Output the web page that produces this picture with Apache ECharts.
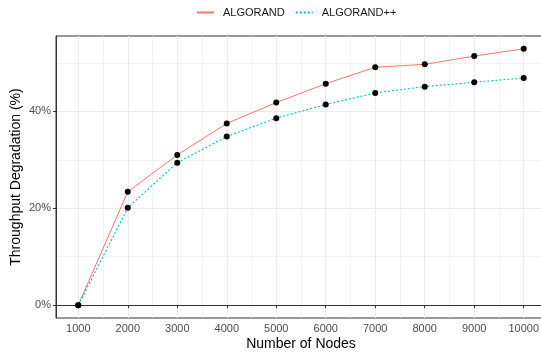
<!DOCTYPE html>
<html>
<head>
<meta charset="utf-8">
<script src="https://cdn.jsdelivr.net/npm/echarts@6/dist/echarts.min.js"></script>
<style>html,body{margin:0;padding:0;background:#fff}#c{width:541px;height:358px}</style>
</head>
<body>
<div id="c"></div>
<script>
const nodes = [1000, 2000, 3000, 4000, 5000, 6000, 7000, 8000, 9000, 10000];
const algorand = [0, 23.4, 31.0, 37.5, 41.8, 45.7, 49.1, 49.7, 51.4, 52.9];
const algorandPP = [0, 20.1, 29.4, 34.8, 38.6, 41.4, 43.8, 45.1, 46.0, 46.9];
const xTicks = [1000, 2000, 3000, 4000, 5000, 6000, 7000, 8000, 9000, 10000];
const xMinor = [1500, 2500, 3500, 4500, 5500, 6500, 7500, 8500, 9500];
const yTicks = [0, 20, 40];
const yMinor = [10, 30, 50];

const FONT = 'Liberation Sans, Arial, sans-serif';
const xMin = 550, xMax = 10450, yMin = -2.65, yMax = 55.55;

const chart = echarts.init(document.getElementById('c'), null, {renderer: 'canvas'});
const hiddenAxis = (custom) => ({
  axisLine: {show: false},
  axisTick: {show: false, customValues: custom},
  axisLabel: {show: false, customValues: custom},
  splitLine: {show: true, lineStyle: {color: '#EBEBEB', width: 0.6}}
});
chart.setOption({
  animation: false,
  backgroundColor: '#fff',
  textStyle: {fontFamily: FONT},
  legend: {
    top: 2, left: 191,
    itemWidth: 17, itemHeight: 10, itemGap: 10,
    itemStyle: {opacity: 0, borderWidth: 0},
    textStyle: {fontFamily: FONT, fontSize: 11, color: '#1A1A1A', padding: [0, 0, 0, 4]},
    data: ['ALGORAND', 'ALGORAND++']
  },
  grid: {left: 56, top: 36, right: -5, bottom: 40, show: true, borderColor: '#333333', borderWidth: 1,
         backgroundColor: 'transparent', containLabel: false, outerBoundsMode: 'none'},
  xAxis: [
    Object.assign({type: 'value', min: xMin, max: xMax, gridIndex: 0, position: 'top'}, hiddenAxis(xMinor)),
    {
      type: 'value', min: xMin, max: xMax, gridIndex: 0, position: 'bottom',
      name: 'Number of Nodes', nameLocation: 'middle', nameGap: 19, nameMoveOverlap: false,
      nameTextStyle: {fontFamily: FONT, fontSize: 14, color: '#000', verticalAlign: 'top'},
      axisLine: {show: true, lineStyle: {color: '#333333', width: 1}},
      axisTick: {show: true, length: 3, customValues: xTicks, lineStyle: {color: '#333333'}},
      axisLabel: {customValues: xTicks, fontSize: 11, color: '#4D4D4D', margin: 5, fontFamily: FONT, formatter: v => String(v)},
      splitLine: {show: true, lineStyle: {color: '#EBEBEB', width: 1.1}}
    }
  ],
  yAxis: [
    Object.assign({type: 'value', min: yMin, max: yMax, gridIndex: 0, position: 'right'}, hiddenAxis(yMinor)),
    {
      type: 'value', min: yMin, max: yMax, gridIndex: 0, position: 'left',
      name: 'Throughput Degradation (%)', nameLocation: 'middle', nameGap: 33, nameMoveOverlap: false,
      nameTextStyle: {fontFamily: FONT, fontSize: 14, color: '#000'},
      axisLine: {show: true, lineStyle: {color: '#333333', width: 1}},
      axisTick: {show: true, length: 3, customValues: yTicks, lineStyle: {color: '#333333'}},
      axisLabel: {customValues: yTicks, fontSize: 11, color: '#4D4D4D', margin: 5, fontFamily: FONT, formatter: v => v + '%'},
      splitLine: {show: true, lineStyle: {color: '#EBEBEB', width: 1.1}}
    }
  ],
  series: [
    {name: 'ALGORAND', type: 'line', xAxisIndex: 1, yAxisIndex: 1, showSymbol: false, symbol: 'none',
     data: nodes.map((x, i) => [x, algorand[i]]), lineStyle: {color: '#F8766D', width: 1}, itemStyle: {color: '#F8766D'}, z: 3},
    {name: 'ALGORAND++', type: 'line', xAxisIndex: 1, yAxisIndex: 1, showSymbol: false, symbol: 'none',
     data: nodes.map((x, i) => [x, algorandPP[i]]), lineStyle: {color: '#00BFC4', width: 1.1, type: [2, 2]}, itemStyle: {color: '#00BFC4'}, z: 3},
    {type: 'scatter', xAxisIndex: 1, yAxisIndex: 1, symbolSize: 6, itemStyle: {color: '#000', opacity: 1}, z: 5,
     data: nodes.map((x, i) => [x, algorand[i]])},
    {type: 'scatter', xAxisIndex: 1, yAxisIndex: 1, symbolSize: 6, itemStyle: {color: '#000', opacity: 1}, z: 5,
     data: nodes.map((x, i) => [x, algorandPP[i]])}
  ]
});
</script>
</body>
</html>
